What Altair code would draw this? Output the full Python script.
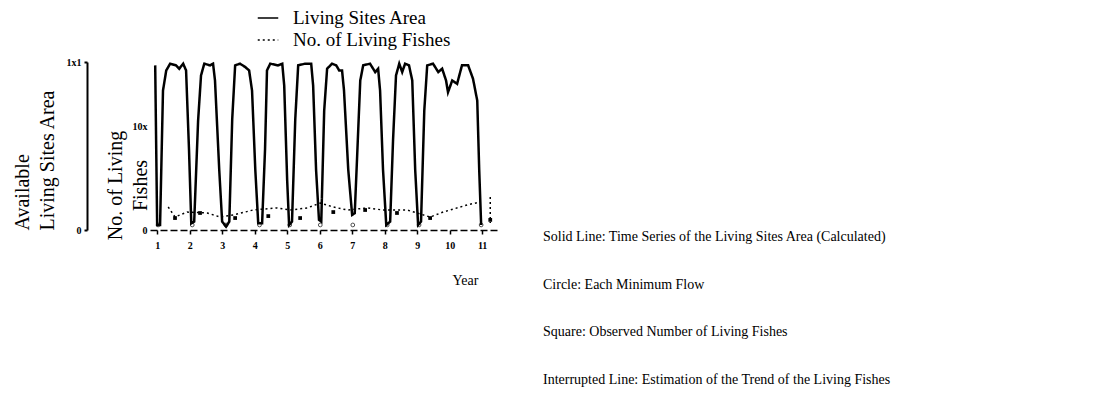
import altair as alt
import pandas as pd

# ---- data ----
area_year = [0.94, 1.00, 1.09, 1.18, 1.28, 1.40, 1.58, 1.68, 1.80, 1.89, 1.98, 2.05, 2.14, 2.26, 2.35,
             2.45, 2.63, 2.72, 2.78, 2.91, 3.00, 3.12, 3.22, 3.31, 3.40, 3.55, 3.71, 3.83, 3.92, 4.02,
             4.11, 4.23, 4.32, 4.38, 4.48, 4.72, 4.85, 4.91, 5.00, 5.06, 5.15, 5.25, 5.34, 5.55, 5.74,
             5.80, 5.89, 5.98, 6.05, 6.14, 6.23, 6.38, 6.51, 6.60, 6.69, 6.75, 6.88, 7.00, 7.08, 7.15,
             7.25, 7.34, 7.55, 7.71, 7.80, 7.86, 7.95, 8.05, 8.17, 8.26, 8.35, 8.45, 8.54, 8.63, 8.75,
             8.85, 8.94, 9.03, 9.12, 9.22, 9.31, 9.49, 9.65, 9.77, 9.89, 9.95, 10.08, 10.23, 10.38,
             10.57, 10.72, 10.85, 10.91, 10.97]
area_val = [0.98, 0.03, 0.03, 0.83, 0.95, 0.99, 0.98, 0.96, 0.99, 0.95, 0.48, 0.04, 0.05, 0.65, 0.92,
            0.99, 0.98, 0.99, 0.89, 0.36, 0.05, 0.02, 0.05, 0.66, 0.98, 0.99, 0.97, 0.95, 0.83, 0.36,
            0.04, 0.04, 0.48, 0.95, 0.99, 0.98, 0.99, 0.86, 0.30, 0.03, 0.05, 0.66, 0.98, 0.99, 0.99,
            0.86, 0.36, 0.06, 0.05, 0.71, 0.96, 0.99, 0.98, 0.95, 0.95, 0.83, 0.36, 0.09, 0.10, 0.42,
            0.89, 0.98, 0.99, 0.94, 0.96, 0.83, 0.36, 0.03, 0.05, 0.54, 0.92, 0.99, 0.94, 0.99, 0.98,
            0.89, 0.36, 0.03, 0.05, 0.71, 0.98, 0.99, 0.94, 0.96, 0.89, 0.82, 0.89, 0.87, 0.98,
            0.98, 0.90, 0.77, 0.36, 0.03]

fish_year = [1.34, 1.55, 1.92, 2.54, 2.94, 3.34, 3.95, 4.69, 5.09, 5.62, 6.02, 6.42, 6.85, 7.46,
             7.95, 8.69, 9.00, 9.40, 9.80, 10.54, 10.94]
fish_val = [2.23, 1.26, 1.74, 1.65, 1.26, 1.45, 1.94, 2.14, 1.94, 2.14, 2.62, 2.23, 1.94, 2.14,
            1.94, 1.94, 1.65, 1.26, 1.74, 2.43, 2.72]

obs_year = [1.55, 2.32, 3.40, 4.42, 5.40, 6.42, 7.40, 8.38, 9.40, 11.25]
obs_val = [1.16, 1.65, 1.16, 1.35, 1.16, 1.74, 1.94, 1.65, 1.16, 0.98]

tail_year = [11.25, 11.25]
tail_val = [3.2, 0.68]

min_year = [1.03, 2.08, 3.12, 4.15, 5.08, 6.02, 7.02, 8.08, 9.06, 10.97]
min_val = [0.03, 0.03, 0.03, 0.03, 0.03, 0.03, 0.03, 0.03, 0.03, 0.03]

year_ticks = [1, 2, 3, 4, 5, 6, 7, 8, 9, 10, 11]
legend_labels = ["Living Sites Area", "No. of Living Fishes"]
notes = [
    "Solid Line: Time Series of the Living Sites Area (Calculated)",
    "Circle: Each Minimum Flow",
    "Square: Observed Number of Living Fishes",
    "Interrupted Line: Estimation of the Trend of the Living Fishes",
]

FONT = "Liberation Serif"
X_DOMAIN = [0.78, 11.55]
AREA_DOMAIN = [0, 1]
FISH_DOMAIN = [0, 16.3]

area_df = pd.DataFrame({"year": area_year, "value": area_val, "series": legend_labels[0]})
fish_df = pd.DataFrame({"year": fish_year, "value": fish_val, "series": legend_labels[1]})
obs_df = pd.DataFrame({"year": obs_year, "value": obs_val})
tail_df = pd.DataFrame({"year": tail_year, "value": tail_val})
min_df = pd.DataFrame({"year": min_year, "value": min_val})
note_df = pd.DataFrame({"text": ["\n".join(notes)]})

x_enc = alt.X(
    "year:Q",
    scale=alt.Scale(domain=X_DOMAIN, nice=False, zero=False),
    axis=alt.Axis(
        values=year_ticks, format="d", grid=False,
        domainDash=[7, 3], domainColor="black", domainWidth=1.5,
        tickColor="black", tickSize=4, tickWidth=1.5,
        labelFont=FONT, labelFontSize=10, labelFontWeight="bold", labelColor="black", labelPadding=6,
        title="Year", titleFont=FONT, titleFontSize=14, titleFontWeight="normal", titleColor="black",
        titleX=315, titleY=50, titleAlign="center", titleBaseline="middle",
    ),
)

dash_scale = alt.Scale(domain=legend_labels, range=[[1, 0], [2, 3]])
legend = alt.Legend(
    title=None, orient="none", legendX=107, legendY=-55,
    symbolType="stroke", symbolSize=420, symbolStrokeWidth=1.5, symbolStrokeColor="black",
    labelFont=FONT, labelFontSize=19, labelColor="black", labelOffset=14, rowPadding=1,
    labelLimit=400,
)

area_axis = alt.Axis(
    orient="left", offset=63, values=[0, 1], grid=False,
    labelExpr="datum.value == 1 ? '1x1' : '0'",
    domainColor="black", domainWidth=2, tickColor="black", tickSize=3, tickWidth=2,
    labelFont=FONT, labelFontSize=10, labelFontWeight="bold", labelColor="black", labelPadding=3,
    title=["Available", "Living Sites Area"], titleFont=FONT, titleFontSize=20,
    titleFontWeight="normal", titleColor="black", titleAngle=270,
    titleX=-65, titleY=168, titleAlign="left", titleBaseline="middle", titleLineHeight=25,
)

fish_axis = alt.Axis(
    orient="left", offset=0, values=[0, 10], grid=False,
    labelExpr="datum.value == 10 ? '10x' : '0'",
    domain=False, ticks=False,
    labelFont=FONT, labelFontSize=10, labelFontWeight="bold", labelColor="black", labelPadding=3,
    title=["No. of Living", "Fishes"], titleFont=FONT, titleFontSize=20,
    titleFontWeight="normal", titleColor="black", titleAngle=270,
    titleX=-35, titleY=123, titleAlign="center", titleBaseline="middle", titleLineHeight=25,
)

area_line = alt.Chart(area_df).mark_line(color="black", strokeWidth=2.5).encode(
    x=x_enc,
    y=alt.Y("value:Q", scale=alt.Scale(domain=AREA_DOMAIN, nice=False), axis=area_axis),
    strokeDash=alt.StrokeDash("series:N", scale=dash_scale, legend=legend),
)

fish_line = alt.Chart(fish_df).mark_line(color="black", strokeWidth=1.5).encode(
    x=x_enc,
    y=alt.Y("value:Q", scale=alt.Scale(domain=FISH_DOMAIN, nice=False), axis=fish_axis),
    strokeDash=alt.StrokeDash("series:N", scale=dash_scale, legend=legend),
)

obs_pts = alt.Chart(obs_df).mark_point(shape="square", filled=True, color="black", size=14, opacity=1).encode(
    x=x_enc,
    y=alt.Y("value:Q", scale=alt.Scale(domain=FISH_DOMAIN, nice=False), axis=None),
)

tail_line = alt.Chart(tail_df).mark_line(color="black", strokeWidth=1.5, strokeDash=[2, 3]).encode(
    x=x_enc,
    y=alt.Y("value:Q", scale=alt.Scale(domain=FISH_DOMAIN, nice=False), axis=None),
)

min_pts = alt.Chart(min_df).mark_point(shape="circle", filled=False, color="black", size=14, strokeWidth=1).encode(
    x=x_enc,
    y=alt.Y("value:Q", scale=alt.Scale(domain=AREA_DOMAIN, nice=False), axis=None),
)

note_text = alt.Chart(note_df).mark_text(
    font=FONT, fontSize=14, color="black", align="left", baseline="middle",
    lineBreak="\n", lineHeight=47.7,
).encode(
    text="text:N",
    x=alt.value(393),
    y=alt.value(175),
)

chart = alt.layer(area_line, fish_line, obs_pts, tail_line, min_pts, note_text).resolve_scale(
    y="independent"
).properties(
    width=350, height=168,
    autosize=alt.AutoSizeParams(type="none"),
    padding={"left": 142, "top": 54, "right": 580, "bottom": 165},
).configure_view(stroke=None)

chart.save("out.html", embed_options={"renderer": "svg", "actions": False})
